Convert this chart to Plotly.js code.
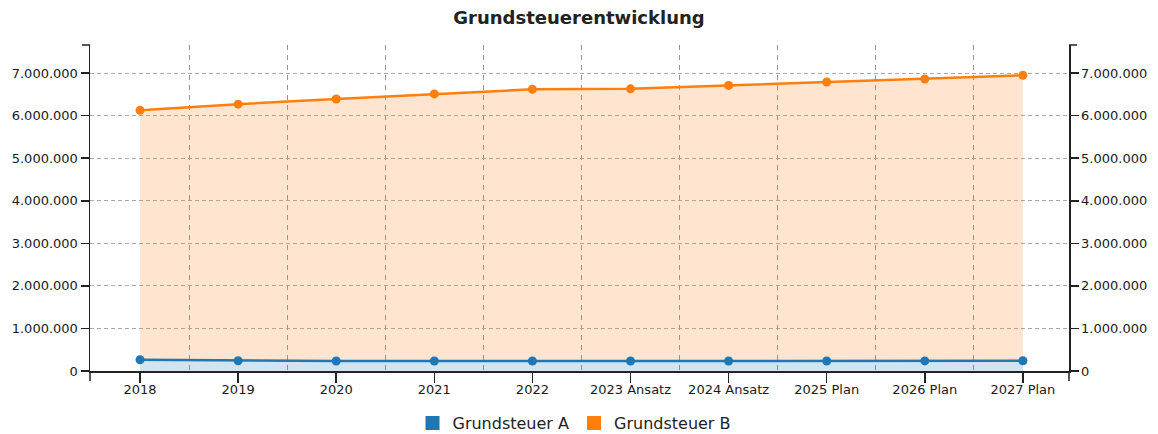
<!DOCTYPE html>
<html>
<head>
<meta charset="utf-8">
<script src="https://cdn.plot.ly/plotly-3.0.1.min.js"></script>
<style>html,body{margin:0;padding:0;background:#fff;}#chart{width:1158px;height:434px;}</style>
</head>
<body>
<div id="chart"></div>
<script>
const categories = ["2018","2019","2020","2021","2022","2023 Ansatz","2024 Ansatz","2025 Plan","2026 Plan","2027 Plan"];
const grundsteuerA = [265000, 242000, 236000, 235000, 235000, 235000, 235000, 236000, 237000, 240000];
const grundsteuerB = [6124000, 6270000, 6390000, 6510000, 6620000, 6630000, 6710000, 6790000, 6860000, 6950000];
const yTicks = [0, 1000000, 2000000, 3000000, 4000000, 5000000, 6000000, 7000000];

const xIdx = categories.map((c, i) => i);
const blue = "#1f77b4", orange = "#ff7f0e";
const font = "DejaVu Sans, Verdana, sans-serif";
const yMax = 7660000;

const traces = [
  {x: xIdx, y: grundsteuerA, type: "scatter", mode: "lines+markers", fill: "tozeroy",
   fillcolor: "rgba(31,119,180,0.2)", line: {color: blue, width: 2.5}, marker: {color: blue, size: 9},
   showlegend: false, name: "Grundsteuer A"},
  {x: xIdx, y: grundsteuerB, type: "scatter", mode: "lines+markers", fill: "tonexty",
   fillcolor: "rgba(255,127,14,0.2)", line: {color: orange, width: 2.5}, marker: {color: orange, size: 9},
   showlegend: false, name: "Grundsteuer B"},
  {x: [null], y: [null], type: "scatter", mode: "markers", name: "Grundsteuer A", yaxis: "y2",
   marker: {symbol: "square", color: blue, size: 14}},
  {x: [null], y: [null], type: "scatter", mode: "markers", name: "Grundsteuer B", yaxis: "y2",
   marker: {symbol: "square", color: orange, size: 14}}
];

const yCommon = {
  range: [0, yMax], tickvals: yTicks, tickformat: ",d", showline: true, linecolor: "#222", linewidth: 1.5,
  ticks: "outside", ticklen: 8, tickwidth: 1.5, tickcolor: "#222", zeroline: false,
  tickfont: {family: font, size: 13, color: "#1a1a1a"}
};

const layout = {
  width: 1158, height: 434,
  margin: {l: 90, r: 89, t: 45, b: 63, autoexpand: false},
  paper_bgcolor: "#fff", plot_bgcolor: "#fff",
  separators: ",.",
  title: {text: "<b>Grundsteuerentwicklung</b>", font: {family: font, size: 18, color: "#222"},
          x: 0.5, xanchor: "center", y: 1 - 18/434, yanchor: "middle", yref: "container"},
  xaxis: {
    range: [-0.51, 9.47], tickvals: xIdx, ticktext: categories, showgrid: false, zeroline: false,
    showline: true, linecolor: "#222", linewidth: 1.5, ticks: "outside", ticklen: 10, tickwidth: 1.5, tickcolor: "#222",
    ticklabelstandoff: -4,
    tickfont: {family: font, size: 13, color: "#1a1a1a"},
    minor: {tick0: 0.5, dtick: 1, showgrid: true, gridcolor: "#959595", gridwidth: 1, griddash: "5px,5px", ticks: ""}
  },
  yaxis: Object.assign({}, yCommon, {side: "left", showgrid: true, gridcolor: "#aaaaaa", gridwidth: 1, griddash: "4px,3px"}),
  yaxis2: Object.assign({}, yCommon, {side: "right", overlaying: "y", showgrid: false}),
  legend: {orientation: "h", traceorder: "normal", x: 0.5 - 5/979, xanchor: "center", xref: "paper",
           y: 1 - 423/434, yanchor: "middle", yref: "container",
           font: {family: font, size: 16, color: "#222"}, itemclick: false},
  shapes: [
    {type: "line", xref: "paper", yref: "paper", x0: 0, x1: 0, y0: 0, y1: -10/326, line: {color: "#222", width: 1.5}},
    {type: "line", xref: "paper", yref: "paper", x0: 1, x1: 1, y0: 0, y1: -10/326, line: {color: "#222", width: 1.5}},
    {type: "line", xref: "paper", yref: "paper", x0: 0, x1: -8/979, y0: 1, y1: 1, line: {color: "#222", width: 1.5}},
    {type: "line", xref: "paper", yref: "paper", x0: 1, x1: 1 + 8/979, y0: 1, y1: 1, line: {color: "#222", width: 1.5}}
  ],
  showlegend: true
};

Plotly.newPlot("chart", traces, layout, {displayModeBar: false, staticPlot: true});
</script>
</body>
</html>
